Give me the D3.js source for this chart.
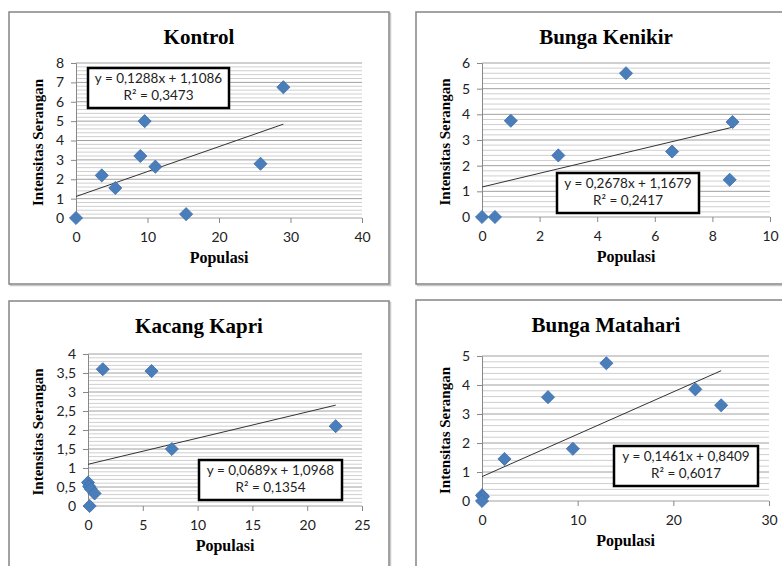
<!DOCTYPE html>
<html>
<head>
<meta charset="utf-8">
<script src="https://cdn.jsdelivr.net/npm/d3@7"></script>
<style>
  body { margin: 0; background: #fff; }
  svg { display: block; }
</style>
</head>
<body>
<div id="chart"></div>
<script>
// Data (x = Populasi, y = Intensitas Serangan)
const kontrolX = [0, 3.6, 5.5, 9, 9.6, 11.1, 15.4, 25.8, 29];
const kontrolY = [0, 2.2, 1.55, 3.2, 5, 2.65, 0.2, 2.8, 6.75];

const kenikirX = [0, 0.45, 1, 2.65, 5, 6.6, 8.6, 8.7];
const kenikirY = [0, 0, 3.75, 2.4, 5.6, 2.55, 1.45, 3.7];

const kapriX = [0, 0.1, 0.25, 0.6, 0.15, 1.35, 5.8, 7.65, 22.6];
const kapriY = [0.62, 0.52, 0.45, 0.33, 0, 3.6, 3.55, 1.5, 2.1];

const matahariX = [0, 0.1, 0, 2.35, 6.9, 9.5, 13, 22.3, 25];
const matahariY = [0.2, 0.15, 0, 1.45, 3.58, 1.8, 4.75, 3.85, 3.3];

// Trendline coefficients [slope, intercept] and R² as printed
const slopes = [0.1288, 0.2678, 0.0689, 0.1461];
const intercepts = [1.1086, 1.1679, 1.0968, 0.8409];
const rSquared = ["0,3473", "0,2417", "0,1354", "0,6017"];
const equations = ["y = 0,1288x + 1,1086", "y = 0,2678x + 1,1679", "y = 0,0689x + 1,0968", "y = 0,1461x + 0,8409"];

const titles = ["Kontrol", "Bunga Kenikir", "Kacang Kapri", "Bunga Matahari"];
const xMaxes = [40, 10, 25, 30];
const xSteps = [10, 2, 5, 10];
const yMaxes = [8, 6, 4, 5];
const ySteps = [1, 1, 0.5, 1];

const seriesX = [kontrolX, kenikirX, kapriX, matahariX];
const seriesY = [kontrolY, kenikirY, kapriY, matahariY];

// Layout of the four panels (frame, plot area, equation box)
const layout = [
  { frame: [9, 12, 380, 272], plot: [76, 63, 362, 218], box: [88, 68, 141, 40] },
  { frame: [416, 12, 380, 272], plot: [482, 63, 770, 217], box: [557, 173, 142, 40] },
  { frame: [9, 301, 380, 280], plot: [88, 354, 362, 506], box: [199, 460, 143, 40] },
  { frame: [416, 300, 380, 280], plot: [482, 356, 769, 501], box: [614, 446, 144, 40] }
];

const fmt = d => String(d).replace(".", ",");

const svg = d3.select("#chart")
  .append("svg")
  .attr("width", 782)
  .attr("height", 566);

layout.forEach((L, i) => {
  const g = svg.append("g");
  const [fx, fy, fw, fh] = L.frame;
  const [px0, py0, px1, py1] = L.plot;

  // panel frame with a soft shadow
  g.append("rect")
    .attr("x", fx + 1.5).attr("y", fy + 1.5)
    .attr("width", fw).attr("height", fh)
    .attr("fill", "none").attr("stroke", "#c8c8c8").attr("stroke-width", 1.5);
  g.append("rect")
    .attr("x", fx).attr("y", fy)
    .attr("width", fw).attr("height", fh)
    .attr("fill", "#fff").attr("stroke", "#858585").attr("stroke-width", 1.5);

  const x = d3.scaleLinear().domain([0, xMaxes[i]]).range([px0, px1]);
  const y = d3.scaleLinear().domain([0, yMaxes[i]]).range([py1, py0]);

  // minor and major horizontal gridlines
  const nMinor = Math.round(yMaxes[i] / ySteps[i] * 5);
  const minor = d3.range(nMinor + 1).map(k => k * ySteps[i] / 5).filter((v, k) => k % 5 !== 0);
  const major = d3.range(0, yMaxes[i] + 1e-9, ySteps[i]);

  g.selectAll(".minor").data(minor).enter().append("line")
    .attr("x1", px0).attr("x2", px1)
    .attr("y1", d => y(d)).attr("y2", d => y(d))
    .attr("stroke", "#cfcfcf").attr("stroke-width", 1);
  g.selectAll(".major").data(major).enter().append("line")
    .attr("x1", px0).attr("x2", px1)
    .attr("y1", d => y(d)).attr("y2", d => y(d))
    .attr("stroke", "#a0a0a0").attr("stroke-width", 1);

  // axes
  const yAxis = d3.axisLeft(y).tickValues(major).tickSize(5).tickPadding(7).tickFormat(fmt);
  const xAxis = d3.axisBottom(x).tickValues(d3.range(0, xMaxes[i] + 1e-9, xSteps[i])).tickSize(5).tickPadding(9).tickFormat(fmt);

  const ya = g.append("g").attr("transform", `translate(${px0},0)`).call(yAxis);
  const xa = g.append("g").attr("transform", `translate(0,${py1})`).call(xAxis);
  [ya, xa].forEach(a => {
    a.select(".domain").attr("stroke", "#888");
    a.selectAll(".tick line").attr("stroke", "#888");
    a.selectAll("text")
      .attr("fill", "#222")
      .style("font-family", "Lato, 'Open Sans', sans-serif")
      .style("font-size", "14px");
  });
  xa.select(".domain").remove();

  // trendline over the data range
  const xs = seriesX[i];
  const ext = d3.extent(xs);
  g.append("line")
    .attr("x1", x(ext[0])).attr("y1", y(slopes[i] * ext[0] + intercepts[i]))
    .attr("x2", x(ext[1])).attr("y2", y(slopes[i] * ext[1] + intercepts[i]))
    .attr("stroke", "#333").attr("stroke-width", 1);

  // markers
  const diamond = d3.symbol().type(d3.symbolSquare).size(86);
  g.selectAll(".pt").data(xs.map((v, k) => [v, seriesY[i][k]])).enter().append("path")
    .attr("d", diamond)
    .attr("transform", d => `translate(${x(d[0])},${y(d[1])}) rotate(45)`)
    .attr("fill", "#4a7ebb")
    .attr("stroke", "#3f6faa").attr("stroke-width", 0.8);

  // equation box
  const [bx, by, bw, bh] = L.box;
  g.append("rect")
    .attr("x", bx).attr("y", by).attr("width", bw).attr("height", bh)
    .attr("fill", "#fff").attr("stroke", "#000").attr("stroke-width", 2.5);
  g.append("text")
    .attr("x", bx + bw / 2).attr("y", by + 15)
    .attr("text-anchor", "middle")
    .style("font-family", "Lato, 'Open Sans', sans-serif").style("font-size", "13.5px")
    .attr("fill", "#222")
    .text(equations[i]);
  g.append("text")
    .attr("x", bx + bw / 2).attr("y", by + 32)
    .attr("text-anchor", "middle")
    .style("font-family", "Lato, 'Open Sans', sans-serif").style("font-size", "13.5px")
    .attr("fill", "#222")
    .text("R² = " + rSquared[i]);

  // titles
  g.append("text")
    .attr("x", fx + fw / 2).attr("y", fy + 32)
    .attr("text-anchor", "middle")
    .style("font-family", "'Liberation Serif', 'Times New Roman', serif")
    .style("font-weight", "bold").style("font-size", "21px")
    .text(titles[i]);

  g.append("text")
    .attr("x", (px0 + px1) / 2).attr("y", py1 + 45)
    .attr("text-anchor", "middle")
    .style("font-family", "'Liberation Serif', 'Times New Roman', serif")
    .style("font-weight", "bold").style("font-size", "16px")
    .text("Populasi");

  g.append("text")
    .attr("transform", `translate(${fx + 34},${(py0 + py1) / 2 + 2}) rotate(-90)`)
    .attr("text-anchor", "middle")
    .style("font-family", "'Liberation Serif', 'Times New Roman', serif")
    .style("font-weight", "bold").style("font-size", "15px")
    .text("Intensitas Serangan");
});
</script>
</body>
</html>
